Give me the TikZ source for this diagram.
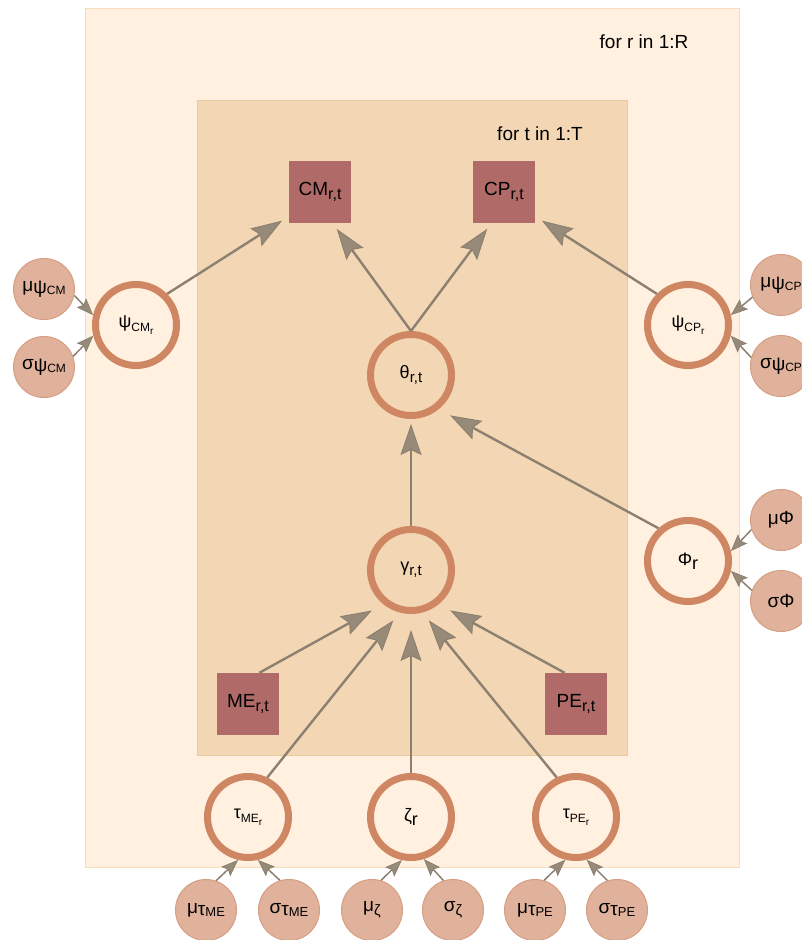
\documentclass[tikz,border=0pt]{standalone}
\usepackage{fontspec}
\setmainfont{Liberation Sans}
\usepackage{tikz}
\usetikzlibrary{positioning,arrows.meta}

\definecolor{plateout}{HTML}{FFF0DF}
\definecolor{plateoutline}{HTML}{F7DDB9}
\definecolor{platein}{HTML}{F3D6B3}
\definecolor{plateinline}{HTML}{EDC99D}
\definecolor{ringcol}{HTML}{CF8662}
\definecolor{hypfill}{HTML}{E0B29B}
\definecolor{hypline}{HTML}{D69E82}
\definecolor{obsfill}{HTML}{B06A68}
\definecolor{linecol}{HTML}{8C8070}
\definecolor{headcol}{HTML}{978A79}

\newcommand{\lowsub}[3]{\raisebox{-#1pt}{\fontsize{#2}{#2}\selectfont #3}}

\begin{document}
\begin{tikzpicture}[x=1pt,y=-1pt,on grid,
	latent/.style={circle,draw=ringcol,line width=7pt,minimum size=81pt,inner sep=0pt,font=\fontsize{18}{20}\selectfont},
	hyper/.style={circle,draw=hypline,fill=hypfill,line width=1pt,minimum size=61pt,inner sep=0pt,font=\fontsize{19}{21}\selectfont},
	obs/.style={rectangle,fill=obsfill,minimum size=62pt,inner sep=0pt,font=\fontsize{19}{21}\selectfont},
	platelabel/.style={font=\fontsize{19}{21}\selectfont},
	dep/.style={draw=linecol,line width=2.4pt,-{Stealth[length=31pt,width=21pt,inset=5pt,line width=1pt,fill=headcol]}},
	hdep/.style={draw=linecol,line width=1.5pt,-{Stealth[length=17pt,width=13pt,inset=3pt,line width=0.8pt,fill=headcol]}}]
		\useasboundingbox (0,0) rectangle (802,940);
		\draw[fill=plateout,draw=plateoutline,line width=0.8pt] (85,8) rectangle (739,867);
		\draw[fill=platein,draw=plateinline,line width=0.8pt] (197,100) rectangle (627,755);
		\node[platelabel] (forR) at (644,42) {for r in 1:R};
		\node[platelabel] (forT) at (540,134) {for t in 1:T};

		\node[latent] (gamma) at (411,570) {γ\lowsub{4}{15}{r,t}};
		\node[latent] (theta) [above=195pt of gamma] {θ\lowsub{4}{15}{r,t}};
		\node[latent] (zeta) [below=247pt of gamma] {ζ\lowsub{4}{18}{r}};
		\node[latent] (tauME) [left=163pt of zeta] {τ\lowsub{4}{12}{ME\lowsub{3}{10}{r}}};
		\node[latent] (tauPE) [right=165pt of zeta] {τ\lowsub{4}{12}{PE\lowsub{3}{10}{r}}};
		\node[obs] (ME) [above=113pt of tauME] {ME\lowsub{4}{16}{r,t}};
		\node[obs] (PE) [above=113pt of tauPE] {PE\lowsub{4}{16}{r,t}};
		\node[obs] (CM) at (320,192) {CM\lowsub{4}{16}{r,t}};
		\node[obs] (CP) at (504,192) {CP\lowsub{4}{16}{r,t}};
		\node[latent] (psiCM) at (136,325) {ψ\lowsub{4}{12}{CM\lowsub{3}{10}{r}}};
		\node[latent] (psiCP) at (688,325) {ψ\lowsub{4}{12}{CP\lowsub{3}{10}{r}}};
		\node[latent] (Phi) at (688,561) {Φ\lowsub{4}{18}{r}};

		\node[hyper] (muPsiCM) [above left=36pt and 92pt of psiCM] {μ\lowsub{2}{19}{ψ\lowsub{1}{12}{CM}}};
		\node[hyper] (sigPsiCM) [below left=42pt and 92pt of psiCM] {σ\lowsub{2}{19}{ψ\lowsub{1}{12}{CM}}};
		\node[hyper] (muPsiCP) [above right=40pt and 93pt of psiCP] {μ\lowsub{2}{19}{ψ\lowsub{1}{12}{CP}}};
		\node[hyper] (sigPsiCP) [below right=41pt and 93pt of psiCP] {σ\lowsub{2}{19}{ψ\lowsub{1}{12}{CP}}};
		\node[hyper] (muPhi) [above right=41pt and 93pt of Phi] {μΦ};
		\node[hyper] (sigPhi) [below right=40pt and 93pt of Phi] {σΦ};
		\node[hyper] (muTauME) [below left=93pt and 42pt of tauME] {μ\lowsub{2}{19}{τ\lowsub{1}{13}{ME}}};
		\node[hyper] (sigTauME) [below right=93pt and 41pt of tauME] {σ\lowsub{2}{19}{τ\lowsub{1}{13}{ME}}};
		\node[hyper] (muZeta) [below left=93pt and 39pt of zeta] {μ\lowsub{4}{15}{ζ}};
		\node[hyper] (sigZeta) [below right=93pt and 42pt of zeta] {σ\lowsub{4}{15}{ζ}};
		\node[hyper] (muTauPE) [below left=93pt and 41pt of tauPE] {μ\lowsub{2}{19}{τ\lowsub{1}{13}{PE}}};
		\node[hyper] (sigTauPE) [below right=93pt and 41pt of tauPE] {σ\lowsub{2}{19}{τ\lowsub{1}{13}{PE}}};

		\path
		(gamma) edge [dep,shorten >=5pt] (theta)
		(theta.north) edge [dep,shorten >=7pt] (CM.-68)
		(theta.north) edge [dep,shorten >=7pt] (CP.-112)
		(psiCM.45) edge [dep,shorten >=8pt] (CM.218)
		(psiCP.135) edge [dep,shorten >=8pt] (CP.-38)
		(Phi.132) edge [dep,shorten >=13pt] (theta.-51)
		(ME.70) edge [dep,shorten >=13pt] (gamma.231)
		(PE.110) edge [dep,shorten >=13pt] (gamma.-51)
		(tauME.64) edge [dep,shorten >=10pt] (gamma.255)
		(tauPE.116) edge [dep,shorten >=10pt] (gamma.285)
		(zeta) edge [dep,shorten >=16pt] (gamma);

		\path
		(muPsiCM.-12) edge [hdep] (psiCM.167)
		(sigPsiCM.20) edge [hdep] (psiCM.194)
		(muPsiCP.203) edge [hdep] (psiCP.13)
		(sigPsiCP.164) edge [hdep] (psiCP.-14)
		(muPhi.198) edge [hdep] (Phi.13)
		(sigPhi.160) edge [hdep] (Phi.-13)
		(muTauME.71) edge [hdep] (tauME.257)
		(sigTauME.107) edge [hdep] (tauME.-77)
		(muZeta.73) edge [hdep] (zeta.258)
		(sigZeta.108) edge [hdep] (zeta.-73)
		(muTauPE.73) edge [hdep] (tauPE.256)
		(sigTauPE.108) edge [hdep] (tauPE.-76);
	\end{tikzpicture}
\end{document}
